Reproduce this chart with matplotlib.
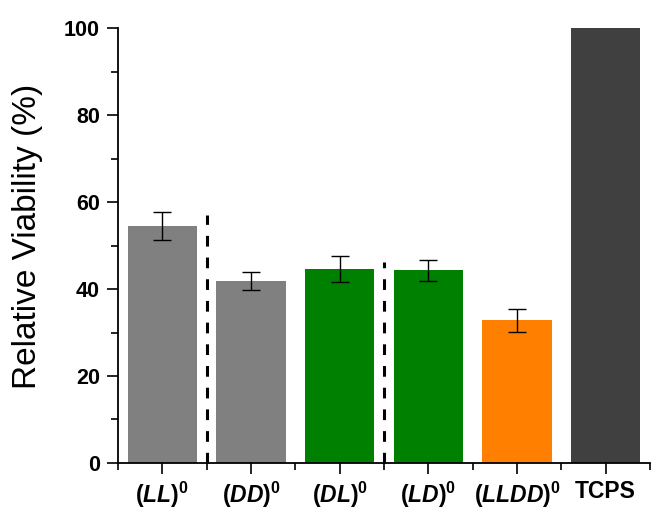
import matplotlib
matplotlib.use("Agg")
import matplotlib.pyplot as plt
from matplotlib.ticker import MultipleLocator, FixedLocator

plt.rcParams['font.family'] = ['Liberation Sans', 'DejaVu Sans']
plt.rcParams['mathtext.fontset'] = 'custom'
plt.rcParams['mathtext.rm'] = 'Liberation Sans'
plt.rcParams['mathtext.bf'] = 'Liberation Sans:bold'
plt.rcParams['mathtext.it'] = 'Liberation Sans:italic'
plt.rcParams['mathtext.bfit'] = 'Liberation Sans:italic:bold'

categories = ["LL", "DD", "DL", "LD", "LLDD", "TCPS"]
labels = [r'$\mathbf{(}\mathbfit{LL}\mathbf{)}^{\mathbf{0}}$',
          r'$\mathbf{(}\mathbfit{DD}\mathbf{)}^{\mathbf{0}}$',
          r'$\mathbf{(}\mathbfit{DL}\mathbf{)}^{\mathbf{0}}$',
          r'$\mathbf{(}\mathbfit{LD}\mathbf{)}^{\mathbf{0}}$',
          r'$\mathbf{(}\mathbfit{LLDD}\mathbf{)}^{\mathbf{0}}$',
          'TCPS']
values = [54.4, 41.9, 44.6, 44.3, 32.8, 100.0]
errors = [3.2, 2.1, 3.0, 2.35, 2.65, 0.0]
colors = ["#808080", "#808080", "#008000", "#008000", "#ff8000", "#404040"]
divider_x = [0.5, 2.5]
divider_top = [57.0, 46.2]

fig = plt.figure(figsize=(6.68, 5.11), dpi=100)
ax = fig.add_axes([0.1766, 0.094, 0.7964, 0.851])

x = list(range(len(categories)))
ax.bar(x, values, width=0.78, color=colors, zorder=2)
ex = [xi for xi, e in zip(x, errors) if e > 0]
ev = [v for v, e in zip(values, errors) if e > 0]
ee = [e for e in errors if e > 0]
ax.errorbar(ex, ev, yerr=ee, fmt='none', ecolor='black', elinewidth=1.0,
            capsize=6.5, capthick=1.0, zorder=3)

for dx, dt in zip(divider_x, divider_top):
    ax.plot([dx, dx], [0, dt], color='black', lw=2.2, linestyle=(0, (3.5, 3.6)),
            zorder=3, clip_on=False)

ax.set_xlim(-0.5, 5.5)
ax.set_ylim(0, 100)
ax.set_xticks(x)
ax.set_xticklabels(labels, fontsize=16.5, fontweight='bold')
ax.xaxis.set_minor_locator(FixedLocator([i + 0.5 for i in range(-1, 6)]))
ax.yaxis.set_major_locator(MultipleLocator(20))
ax.yaxis.set_minor_locator(MultipleLocator(10))
for lab in ax.get_yticklabels():
    lab.set_fontweight('bold')
    lab.set_fontsize(15.5)

ax.tick_params(axis='both', which='major', direction='out', length=8, width=1.2, pad=5)
ax.tick_params(axis='both', which='minor', direction='out', length=5, width=1.2)
ax.tick_params(axis='x', which='major', pad=4)

for s in ['top', 'right']:
    ax.spines[s].set_visible(False)
for s in ['left', 'bottom']:
    ax.spines[s].set_linewidth(1.3)

ax.set_ylabel('Relative Viability (%)', fontsize=24)
ax.yaxis.set_label_coords(-0.141, 0.522)

fig.savefig('out.png', dpi=100)
